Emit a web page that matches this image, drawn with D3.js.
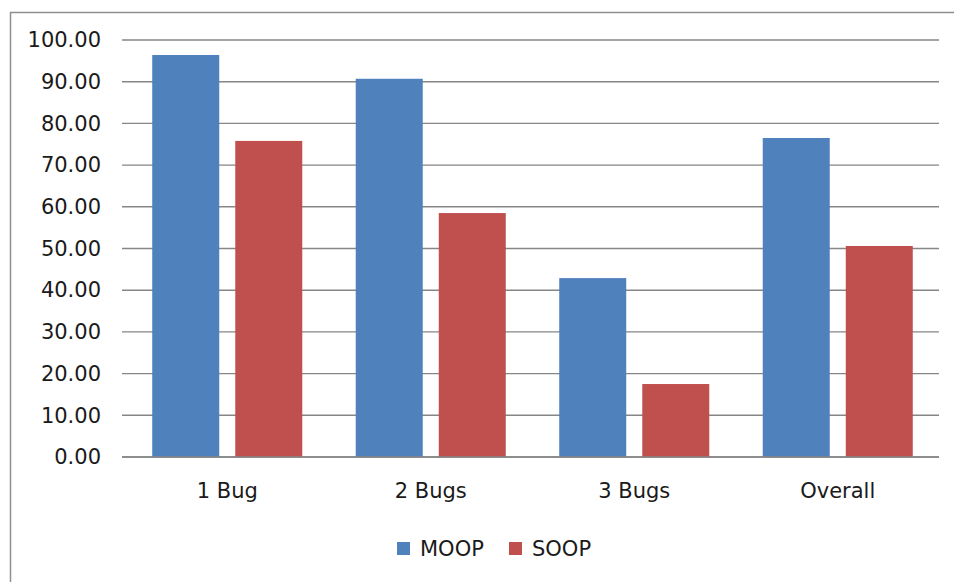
<!DOCTYPE html>
<html>
<head>
<meta charset="utf-8">
<script src="https://cdn.jsdelivr.net/npm/d3@7"></script>
<style>
  html, body { margin: 0; padding: 0; background: #fff; }
  svg { display: block; }
  text { font-family: "DejaVu Sans", sans-serif; }
</style>
</head>
<body>
<svg id="chart" width="954" height="582"></svg>
<script>
const categories = ["1 Bug", "2 Bugs", "3 Bugs", "Overall"];
const seriesNames = ["MOOP", "SOOP"];
const moopValues = [96.4, 90.7, 42.9, 76.5];
const soopValues = [75.8, 58.5, 17.5, 50.6];
const yTicks = [0, 10, 20, 30, 40, 50, 60, 70, 80, 90, 100];
const colors = ["#4F81BD", "#C0504D"];

const seriesValues = [moopValues, soopValues];
const data = categories.map((c, i) => ({
  category: c,
  values: seriesNames.map((s, j) => ({ series: s, value: seriesValues[j][i] }))
}));

const svg = d3.select("#chart");

// outer frame (only top and left visible)
svg.append("rect")
  .attr("x", 10.5).attr("y", 12.5)
  .attr("width", 1200).attr("height", 1200)
  .attr("fill", "none").attr("stroke", "#8f8f8f").attr("stroke-width", 1.5);

const gridLeft = 122, gridRight = 939;
const y = d3.scaleLinear().domain([0, 100]).range([457, 40]);
const x0 = d3.scaleBand().domain(categories).range([125.5, 939.5]).paddingInner(0).paddingOuter(0);
const x1 = d3.scaleBand().domain(seriesNames).range([0, x0.bandwidth()]).paddingInner(0.193).paddingOuter(0.322);

// gridlines
svg.append("g").selectAll("line")
  .data(yTicks)
  .join("line")
  .attr("x1", gridLeft).attr("x2", gridRight)
  .attr("y1", d => y(d)).attr("y2", d => y(d))
  .attr("stroke", "#868686").attr("stroke-width", 1.4);

// y axis labels
const yAxis = d3.axisLeft(y).tickValues(yTicks).tickFormat(d3.format(".2f")).tickSize(0).tickPadding(21);
svg.append("g")
  .attr("transform", `translate(${gridLeft},0)`)
  .call(yAxis)
  .call(g => g.select(".domain").remove())
  .call(g => g.selectAll("text").attr("font-size", 21).attr("fill", "#1a1a1a")
    .attr("font-family", "DejaVu Sans, sans-serif"));

// bars
svg.append("g").selectAll("g")
  .data(data)
  .join("g")
  .attr("transform", d => `translate(${x0(d.category)},0)`)
  .selectAll("rect")
  .data(d => d.values)
  .join("rect")
  .attr("x", d => x1(d.series))
  .attr("width", x1.bandwidth())
  .attr("y", d => y(d.value))
  .attr("height", d => y(0) - y(d.value))
  .attr("fill", (d, i) => colors[i]);

// baseline
svg.append("line")
  .attr("x1", gridLeft).attr("x2", gridRight)
  .attr("y1", y(0)).attr("y2", y(0))
  .attr("stroke", "#868686").attr("stroke-width", 1.4);

// x axis labels
const xAxis = d3.axisBottom(x0).tickSize(0).tickPadding(26);
svg.append("g")
  .attr("transform", `translate(0,${y(0)})`)
  .call(xAxis)
  .call(g => g.select(".domain").remove())
  .call(g => g.selectAll("text").attr("font-size", 21).attr("fill", "#1a1a1a")
    .attr("font-family", "DejaVu Sans, sans-serif"));

// legend
const legendItems = [
  { name: seriesNames[0], color: colors[0], x: 397 },
  { name: seriesNames[1], color: colors[1], x: 509 }
];
const lg = svg.append("g").selectAll("g").data(legendItems).join("g")
  .attr("transform", d => `translate(${d.x},542)`);
lg.append("rect").attr("width", 13).attr("height", 13).attr("fill", d => d.color);
lg.append("text")
  .attr("x", 23).attr("y", 14)
  .attr("font-size", 21).attr("fill", "#1a1a1a")
  .text(d => d.name);
</script>
</body>
</html>
